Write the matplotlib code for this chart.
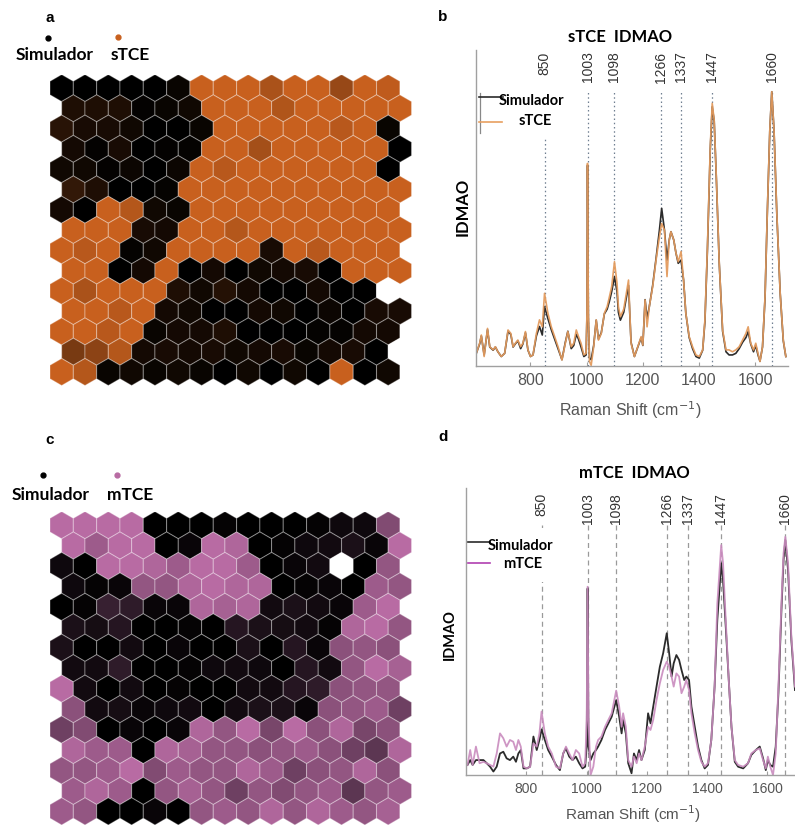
import numpy as np
import matplotlib
matplotlib.use("Agg")
import matplotlib.pyplot as plt
from matplotlib.patches import RegularPolygon, Rectangle
from matplotlib.collections import PatchCollection
from matplotlib.colors import LinearSegmentedColormap
from matplotlib.lines import Line2D

plt.rcParams['font.family'] = ['Liberation Sans', 'DejaVu Sans']
LEG_FONT = ['Lato', 'DejaVu Sans']

nan = np.nan

# SOM units, 15 rows x 15 columns: 0 = Simulador, 1 = TCE, nan = empty unit
som_stce = [
    [0, 0, 0, 0, 0, 0.05, 1, 1, 1, 0.85, 1, 1, 0.75, 1, 0.95],
    [0.15, 0.15, 0.15, 0.02, 0.05, 0.08, 1, 1, 1, 0.88, 1, 1, 1, 1, 1],
    [0.2, 0.12, 0.12, 0.08, 0, 0, 0.05, 1, 1, 1, 1, 1, 0.92, 1, 0.05],
    [0.1, 0.02, 0.12, 0, 0.02, 0.03, 1, 1, 0.82, 1, 1, 1, 1, 1, 0],
    [0.08, 0.08, 0.02, 0.06, 0, 0.06, 1, 0.92, 1, 1, 1, 1, 1, 1, 0],
    [0.25, 0.15, 0, 0, 0.03, 1, 1, 1, 1, 1, 1, 1, 1, 1, 1],
    [0.1, 0, 1, 0.9, 0.08, 0.05, 1, 1, 1, 1, 1, 1, 1, 1, 1],
    [1, 1, 1, 0.12, 0.1, 1, 1, 0.9, 1, 1, 1, 1, 1, 1, 1],
    [1, 0.92, 1, 0.03, 0.08, 1, 1, 1, 1, 0.12, 1, 0.92, 1, 1, 1],
    [1, 1, 0, 0.1, 1, 0, 0.1, 0, 0.08, 0.1, 0.12, 0, 1, 1, 1],
    [1, 0.85, 1, 1, 1, 0.15, 0.08, 0.18, 0.1, 0, 0, 0.1, 0, 0, nan],
    [1, 1, 0.92, 1, 0.1, 0.08, 0, 0, 0.1, 0.08, 0, 0.06, 0, 0.12, 0.12],
    [1, 1, 0.92, 1, 0.05, 0.1, 0.1, 0.15, 0, 0, 0, 0.03, 0.03, 0.1, 0.1],
    [0.6, 0.7, 0.9, 0.1, 0.12, 0.1, 0.12, 0.08, 0.1, 0.12, 0.05, 0.1, 0.12, 0, nan],
    [1, 0.9, 0.05, 0.08, 0.05, 0.08, 0.05, 0, 0.08, 0, 0.08, 0, 1, 0, 0.08],
]

som_mtce = [
    [1, 1, 1, 1, 0, 0, 0, 0.03, 0, 0, 0, 0.03, 0.08, 0.08, 0.7],
    [1, 0.85, 1, 1, 0, 0.05, 1, 0.95, 0, 0.03, 0.08, 0.1, 0.15, 0.05, 1],
    [0.08, 0, 1, 1, 0.95, 0.85, 1, 1, 0.85, 0, 0.05, 0.1, nan, 0, 0.8],
    [0.08, 0.03, 0.05, 0.8, 0.8, 0.95, 1, 0.95, 0.95, 0, 0.03, 0.05, 0, 0.85, 0.8],
    [0, 0.03, 0.3, 0.25, 0.05, 0.05, 0.95, 0.9, 0.95, 0.1, 0.15, 0.1, 0.05, 0.85, 1],
    [0.15, 0.12, 0.2, 0, 0, 0.03, 0, 0.2, 0.15, 0.12, 0.1, 0.03, 0.95, 1, 0.8],
    [0.15, 0, 0, 0.1, 0, 0.05, 0, 0, 0.15, 0, 0.2, 0.05, 0.75, 0.8, 0.75],
    [0.1, 0.1, 0.25, 0, 0, 0.03, 0.08, 0.1, 0.08, 0, 0.2, 0.1, 0.8, 1, 0.9],
    [1, 0.1, 0, 0.1, 0, 0.03, 0, 0, 0.1, 0.1, 0.2, 0.25, 0.75, 0.8, 0.8],
    [0.75, 0.1, 0.12, 0.05, 0.08, 0.1, 0, 0.1, 0.15, 0.15, 0.05, 0.75, 0.8, 0.85, 0.6],
    [0.6, 0.7, 0, 0.05, 0, 0.05, 0.95, 0.8, 1, 0.65, 1, 0.75, 0.95, 0.65, 0.75],
    [0.95, 0.85, 0.85, 0, 0.95, 0.9, 0.8, 0.8, 0.75, 0.8, 0.85, 0.75, 0.6, 0.5, 0.95],
    [0.8, 0.8, 0.85, 1, 0.7, 0.85, 0.8, 0.8, 0.95, 0.85, 0.6, 0.75, 0.8, 0.95, 0.75],
    [0.85, 0.95, 0.85, 0, 0.8, 0.9, 0.8, 0.6, 0.8, 0.7, 0.8, 0.85, 0.5, 0.8, 0.85],
    [0.85, 0.8, 0, 0, 0.05, 0, 0.8, 0.85, 0.8, 0.95, 0.8, 0.95, 0.85, 0.8, 0.9],
]

peaks = [850, 1003, 1098, 1266, 1337, 1447, 1660]

# mean spectra, sTCE vs Simulador
shift_b = [607, 619, 625, 635, 647, 655, 667, 675, 684, 696, 708, 720, 730, 738, 746,
           755, 765, 773, 782, 791, 800, 809, 821, 832, 842, 850, 862, 874, 886, 898,
           912, 924, 933, 945, 954, 963, 971, 980, 990, 998, 1001, 1003, 1006, 1010, 1016,
           1025, 1034, 1042, 1052, 1063, 1073, 1081, 1089, 1099, 1108, 1113, 1120, 1132, 1149, 1158,
           1170, 1182, 1194, 1200, 1208, 1215, 1223, 1235, 1247, 1259, 1267, 1277, 1286, 1294, 1300,
           1310, 1318, 1326, 1336, 1345, 1353, 1365, 1377, 1389, 1401, 1413, 1421, 1430, 1440, 1447,
           1454, 1462, 1472, 1484, 1496, 1507, 1519, 1531, 1543, 1555, 1567, 1575, 1584, 1594, 1602,
           1610, 1617, 1626, 1635, 1643, 1652, 1659, 1667, 1677, 1689, 1700, 1709]
stce_b = [4.0, 7.2, 9.8, 3.0, 11.9, 6.1, 5.1, 6.1, 4.5, 3.0, 4.0, 11.4, 10.3, 6.1, 7.2,
          8.2, 6.1, 7.2, 10.9, 5.1, 3.0, 3.5, 10.3, 14.6, 12.4, 23.0, 16.7, 12.4, 9.3, 6.1,
          1.9, 7.2, 10.9, 6.1, 7.2, 11.4, 9.3, 7.2, 3.5, 4.0, 16.7, 64.1, 16.7, 1.4, 0.2,
          6.1, 14.6, 8.2, 10.3, 16.7, 18.8, 21.9, 25.1, 33.0, 26.2, 18.8, 15.6, 18.0, 27.2, 7.2,
          3.0, 6.1, 9.3, 6.6, 20.9, 12.4, 18.8, 25.1, 33.5, 40.9, 45.1, 43.0, 28.3, 39.9, 42.5,
          39.9, 35.7, 33.0, 36.2, 27.2, 16.7, 9.3, 6.1, 3.5, 3.0, 5.1, 14.6, 37.8, 69.4, 83.1,
          77.8, 58.9, 32.5, 11.4, 5.1, 5.1, 4.5, 5.1, 6.1, 8.2, 10.3, 12.4, 7.2, 5.1, 7.2,
          4.0, 1.4, 6.1, 21.9, 48.3, 74.7, 86.8, 74.7, 48.3, 23.0, 8.2, 3.0]
sim_b = [4.0, 7.0, 9.5, 3.5, 11.5, 6.0, 5.0, 6.0, 4.5, 3.0, 4.0, 11.0, 10.0, 6.0, 7.0,
         8.0, 5.5, 7.0, 10.5, 5.0, 3.0, 3.5, 9.5, 12.5, 9.8, 18.8, 15.0, 11.5, 8.5, 5.5,
         2.0, 7.5, 11.0, 5.5, 6.5, 10.0, 8.5, 6.0, 3.0, 3.5, 16.0, 63.5, 15.0, 2.5, 2.0,
         6.5, 14.5, 8.5, 10.5, 16.5, 18.0, 20.5, 23.5, 28.3, 23.5, 17.0, 14.5, 17.0, 25.5, 7.5,
         3.0, 6.0, 9.0, 6.5, 21.0, 15.0, 18.8, 25.5, 34.0, 43.0, 49.9, 43.0, 33.5, 39.9, 42.5,
         39.9, 35.7, 32.5, 33.5, 27.2, 16.7, 9.0, 5.5, 3.0, 2.5, 5.0, 14.0, 37.0, 68.5, 82.0,
         77.5, 58.5, 32.5, 11.0, 4.5, 3.5, 3.5, 4.0, 5.5, 7.5, 9.0, 10.9, 7.0, 4.5, 6.5,
         3.5, 1.5, 6.0, 21.5, 48.0, 74.5, 86.8, 74.5, 48.0, 23.0, 8.0, 3.0]

# mean spectra, mTCE vs Simulador
shift_d = [604, 613, 621, 632, 644, 657, 668, 679, 690, 701, 712, 723, 734, 745, 756,
           765, 773, 781, 790, 801, 812, 823, 834, 843, 850, 861, 872, 884, 898, 911,
           922, 931, 942, 953, 964, 975, 986, 995, 1000, 1003, 1006, 1013, 1022, 1031, 1038,
           1049, 1061, 1072, 1083, 1098, 1108, 1116, 1121, 1130, 1138, 1149, 1157, 1166, 1174, 1182,
           1193, 1204, 1212, 1221, 1232, 1243, 1254, 1266, 1274, 1282, 1289, 1298, 1307, 1315, 1324,
           1331, 1340, 1348, 1359, 1370, 1381, 1392, 1403, 1414, 1425, 1434, 1447, 1453, 1462, 1472,
           1481, 1492, 1503, 1520, 1536, 1547, 1562, 1575, 1586, 1595, 1602, 1610, 1619, 1628, 1637,
           1647, 1654, 1660, 1669, 1680, 1692]
mtce_d = [3.5, 8.7, 3.5, 9.9, 4.1, 4.6, 4.1, 3.5, 2.9, 7.5, 14.5, 12.8, 9.9, 12.2, 11.6,
          8.7, 12.2, 9.9, 2.9, 2.3, 2.9, 11.0, 9.9, 14.5, 22.1, 14.5, 9.9, 7.5, 2.9, 2.3,
          7.5, 9.9, 7.5, 5.2, 8.7, 7.5, 2.9, 4.1, 19.2, 65.6, 19.2, 0.0, 2.9, 9.9, 12.2,
          13.4, 16.8, 19.2, 21.5, 29.4, 23.8, 16.8, 21.5, 16.8, 5.2, 2.9, 6.4, 4.1, 7.5, 5.2,
          9.9, 16.8, 15.7, 19.2, 26.1, 31.9, 36.6, 39.5, 37.7, 34.3, 30.8, 35.4, 34.3, 28.5, 30.8,
          33.1, 29.6, 21.5, 14.5, 8.7, 4.6, 2.9, 4.1, 12.2, 30.8, 59.8, 80.1, 73.8, 54.0, 33.1,
          16.8, 5.2, 3.5, 2.9, 4.1, 7.5, 8.7, 9.3, 5.2, 2.3, 6.4, 2.9, 0.0, 7.5, 30.8,
          59.8, 77.2, 83.0, 73.8, 48.2, 30.8]
sim_d = [3.5, 5.2, 3.5, 5.2, 5.2, 5.2, 4.1, 2.9, 1.2, 2.9, 7.5, 8.1, 5.8, 5.2, 6.4,
         4.6, 7.5, 8.7, 2.3, 2.3, 2.9, 13.4, 8.7, 12.2, 15.9, 12.2, 8.7, 6.4, 3.5, 1.7,
         7.5, 9.3, 6.4, 5.2, 6.4, 4.1, 2.3, 2.9, 9.9, 65.0, 10.0, 5.2, 7.5, 8.7, 9.9,
         12.2, 15.7, 18.0, 20.3, 26.1, 20.3, 14.5, 19.2, 14.5, 4.1, 0.6, 7.5, 5.2, 8.7, 5.2,
         8.7, 21.5, 18.0, 23.8, 30.8, 37.7, 42.4, 49.4, 42.4, 34.3, 38.9, 41.8, 40.1, 36.6, 33.1,
         34.3, 33.1, 23.8, 16.8, 9.9, 5.2, 2.3, 3.5, 12.2, 30.8, 54.0, 73.8, 67.9, 51.7, 33.1,
         16.8, 4.6, 2.9, 2.3, 4.1, 7.0, 8.7, 9.9, 5.8, 1.7, 5.2, 3.5, 2.9, 9.9, 28.5,
         57.5, 74.9, 81.9, 71.4, 47.0, 29.6]

W, H = 795, 827
fig = plt.figure(figsize=(W / 100, H / 100), dpi=100)


def frac(x0, y0, x1, y1):
    # pixel box (top-left origin) -> figure fraction rect
    return [x0 / W, 1 - y1 / H, (x1 - x0) / W, (y1 - y0) / H]


def fxy(x, y):
    return x / W, 1 - y / H


def hex_map(rect, grid, color):
    ax = fig.add_axes(rect)
    cmap = LinearSegmentedColormap.from_list('som', ['#000000', color])
    cmap.set_bad('white')
    vals = np.ma.masked_invalid(np.array(grid, dtype=float))
    n_rows, n_cols = vals.shape
    r = 1 / np.sqrt(3)
    cells = []
    for i in range(n_rows):
        for j in range(n_cols):
            cells.append(RegularPolygon((j + 0.5 * (i % 2), -i * 1.5 * r), 6,
                                        radius=r, orientation=0))
    pc = PatchCollection(cells, cmap=cmap, edgecolor=(1, 1, 1, 0.3), linewidth=0.8)
    pc.set_array(vals.ravel())
    pc.set_clim(0, 1)
    ax.add_collection(pc)
    ax.set_xlim(-0.5, n_cols)
    ax.set_ylim(-(n_rows - 1) * 1.5 * r - r, r)
    ax.axis('off')
    return ax


def spectrum(rect, xlim, tick_size):
    ax = fig.add_axes(rect)
    ax.set_xlim(*xlim)
    ax.set_ylim(0, 100)
    for s in ['top', 'right']:
        ax.spines[s].set_visible(False)
    for s in ['left', 'bottom']:
        ax.spines[s].set_color('#a0a0a0')
        ax.spines[s].set_linewidth(1.0)
    ax.set_yticks([])
    ax.set_xticks([800, 1000, 1200, 1400, 1600])
    ax.tick_params(axis='x', direction='in', length=3, color='#a0a0a0',
                   labelsize=tick_size, labelcolor='#555555', pad=5)
    return ax


def dot(x, y, color):
    fx, fy = fxy(x, y)
    fig.add_artist(Line2D([fx], [fy], marker='o', ms=3.5, color=color,
                          transform=fig.transFigure))


def seg(x0, x1, y0, y1, color, lw=1.2):
    a, b = fxy(x0, y0)
    c, d = fxy(x1, y1)
    fig.add_artist(Line2D([a, c], [b, d], color=color, lw=lw,
                          transform=fig.transFigure, zorder=5))


def white_box(x0, y0, x1, y1):
    a, b = fxy(x0, y1)
    c, d = fxy(x1, y0)
    fig.add_artist(Rectangle((a, b), c - a, d - b, transform=fig.transFigure,
                             facecolor='white', edgecolor='none', zorder=4))


# --- a: sTCE SOM map
hex_map(frac(50, 74.5, 411.5, 385.5), som_stce, '#C8601E')
fig.text(*fxy(50, 18), 'a', fontsize=11, fontweight='bold', ha='center', va='center')
dot(48, 38, 'black')
dot(118, 37, '#C8601E')
fig.text(*fxy(55, 55), 'Simulador', family=LEG_FONT, fontsize=12.5, fontweight='bold',
         ha='center', va='center')
fig.text(*fxy(130, 55), 'sTCE', family=LEG_FONT, fontsize=12.5, fontweight='bold',
         ha='center', va='center')

# --- c: mTCE SOM map
hex_map(frac(50, 511.5, 411.5, 825), som_mtce, '#B86BA3')
fig.text(*fxy(50, 440), 'c', fontsize=11, fontweight='bold', ha='center', va='center')
dot(43, 475, 'black')
dot(117, 475, '#B86BA3')
fig.text(*fxy(51, 495), 'Simulador', family=LEG_FONT, fontsize=12.5, fontweight='bold',
         ha='center', va='center')
fig.text(*fxy(130, 495), 'mTCE', family=LEG_FONT, fontsize=12.5, fontweight='bold',
         ha='center', va='center')

# --- b: sTCE spectra
axb = spectrum(frac(476, 50, 787.5, 366), (606, 1715), 11.5)
axb.vlines(peaks, 0, 87.5, colors='#6f7f90', linestyles=(0, (1.2, 2.2)), linewidth=0.9)
axb.plot(shift_b, sim_b, color='#2b2b2b', lw=1.2)
axb.plot(shift_b, stce_b, color='#E39B5E', lw=1.2, alpha=0.95)
for p in peaks:
    axb.text(p, 99.5, str(p), rotation=90, ha='center', va='top', fontsize=10,
             color='#333333', clip_on=False)
axb.set_xlabel('Raman Shift (cm$^{-1}$)', fontsize=11.5, color='#555555')
axb.xaxis.set_label_coords(0.495, -0.105)
axb.text(-0.042, 0.503, 'IDMAO', transform=axb.transAxes, rotation=90, ha='center',
         va='center', family=LEG_FONT, fontsize=12, fontweight='bold')
axb.text(0.463, 1.041, 'sTCE  IDMAO', transform=axb.transAxes, ha='center', va='center',
         family=LEG_FONT, fontsize=12, fontweight='bold')
fig.text(*fxy(443, 17), 'b', fontsize=11, fontweight='bold', ha='center', va='center')

# legend b
white_box(477.5, 91, 572, 137)
seg(480, 480, 93, 133, '#888888', lw=0.9)
seg(479, 503, 97, 97, '#2b2b2b')
seg(479, 502, 122, 122, '#E8A060')
fig.text(*fxy(499, 101), 'Simulador', family=LEG_FONT, fontsize=10.5, fontweight='bold',
         ha='left', va='center', zorder=6)
fig.text(*fxy(519, 121), 'sTCE', family=LEG_FONT, fontsize=10.5, fontweight='bold',
         ha='left', va='center', zorder=6)

# --- d: mTCE spectra
axd = spectrum(frac(466.3, 488, 803.4, 775), (600, 1720), 10)
axd.vlines(peaks, 0, 87, colors='#9a9a9a', linestyles=(0, (4, 3)), linewidth=0.9)
axd.plot(shift_d, sim_d, color='#2b2b2b', lw=1.3)
axd.plot(shift_d, mtce_d, color='#C98BBE', lw=1.3, alpha=0.9)
for p in peaks:
    axd.text(p, 98.3, str(p), rotation=90, ha='center', va='top', fontsize=10,
             color='#333333', clip_on=False)
axd.set_xlabel('Raman Shift (cm$^{-1}$)', fontsize=11, color='#555555')
axd.xaxis.set_label_coords(0.494, -0.098)
axd.text(-0.048, 0.488, 'IDMAO', transform=axd.transAxes, rotation=90, ha='center',
         va='center', family=LEG_FONT, fontsize=10.5, fontweight='bold')
axd.text(0.5, 1.052, 'mTCE  IDMAO', transform=axd.transAxes, ha='center', va='center',
         family=LEG_FONT, fontsize=12, fontweight='bold')
fig.text(*fxy(443, 437), 'd', fontsize=11, fontweight='bold', ha='center', va='center')

# legend d
white_box(467.5, 528, 560, 582)
seg(468, 490, 542, 542, '#2b2b2b')
seg(468, 490, 563, 563, '#B040B0')
fig.text(*fxy(488, 546), 'Simulador', family=LEG_FONT, fontsize=10.5, fontweight='bold',
         ha='left', va='center', zorder=6)
fig.text(*fxy(503, 564), 'mTCE', family=LEG_FONT, fontsize=10.5, fontweight='bold',
         ha='left', va='center', zorder=6)

fig.savefig('out.png', dpi=100)
